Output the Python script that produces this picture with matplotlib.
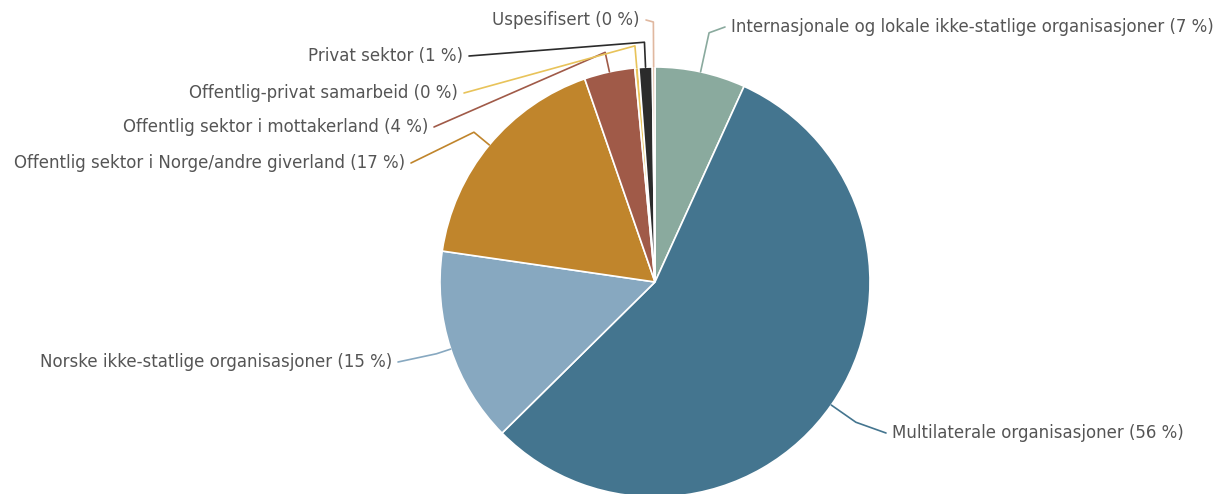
import matplotlib.pyplot as plt
import numpy as np

labels = ["Internasjonale og lokale ikke-statlige organisasjoner",
          "Multilaterale organisasjoner",
          "Norske ikke-statlige organisasjoner",
          "Offentlig sektor i Norge/andre giverland",
          "Offentlig sektor i mottakerland",
          "Offentlig-privat samarbeid",
          "Privat sektor",
          "Uspesifisert"]
values = [6.8, 55.8, 14.7, 17.4, 3.8, 0.3, 1.0, 0.2]
pct_labels = ["7", "56", "15", "17", "4", "0", "1", "0"]
colors = ["#8aaa9e", "#44758f", "#87a8c0", "#c0852c", "#a05a48",
          "#e8c35a", "#2b2b2b", "#e0b8a0"]

W, H = 1232, 494
cx, cy, R = 655, 282, 215

# label placement (pixel coords from top-left): x, y, alignment, elbow offset
label_pos = [(731, 27, "left", 40),
             (892, 433, "left", 30),
             (392, 362, "right", 15),
             (405, 163, "right", 20),
             (428, 127, "right", 20),
             (458, 93, "right", 22),
             (463, 56, "right", 25),
             (640, 20, "right", 45)]

fig = plt.figure(figsize=(W / 100, H / 100), dpi=100)
ax = fig.add_axes([0, 0, 1, 1])

ax.pie(values, colors=colors, startangle=90, counterclock=False,
       center=(cx, H - cy), radius=R, frame=True,
       wedgeprops=dict(edgecolor="white", linewidth=1.2))

ax.set_xlim(0, W)
ax.set_ylim(0, H)
ax.set_aspect("auto")
ax.axis("off")

cum = np.cumsum([0] + values[:-1])
for i, v in enumerate(values):
    mid = (cum[i] + v / 2) / sum(values) * 2 * np.pi
    tx, ty, ha, off = label_pos[i]
    sx, sy = cx + R * np.sin(mid), cy - R * np.cos(mid)
    ex, ey = cx + (R + off) * np.sin(mid), cy - (R + off) * np.cos(mid)
    gap = 6 if ha == "left" else -6
    ax.plot([sx, ex, tx - gap], [H - sy, H - ey, H - ty],
            color=colors[i], lw=1.2, solid_capstyle="round")
    ax.text(tx, H - ty, f"{labels[i]} ({pct_labels[i]} %)", ha=ha,
            va="center", fontsize=12, color="#555555")

fig.savefig("out.png", dpi=100)
